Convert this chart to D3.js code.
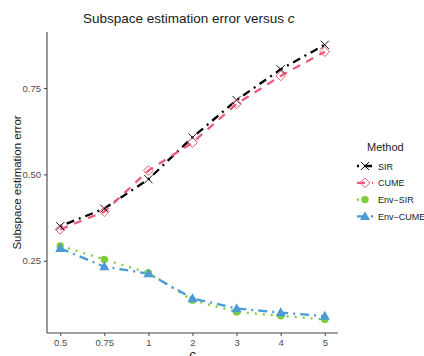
<!DOCTYPE html>
<html>
<head>
<meta charset="utf-8">
<script src="https://cdn.jsdelivr.net/npm/d3@7"></script>
<style>
  body { margin: 0; background: #fff; }
  svg { font-family: "Liberation Sans", Arial, sans-serif; }
</style>
</head>
<body>
<svg id="chart" width="424" height="356"></svg>
<script>
// c values (discrete x)
var cLabels = ["0.5", "0.75", "1", "2", "3", "4", "5"];

var sirErr     = [0.350, 0.401, 0.486, 0.607, 0.715, 0.804, 0.875];
var cumeErr    = [0.341, 0.392, 0.511, 0.592, 0.704, 0.785, 0.855];
var envSirErr  = [0.293, 0.254, 0.215, 0.136, 0.102, 0.091, 0.080];
var envCumeErr = [0.286, 0.233, 0.213, 0.141, 0.112, 0.100, 0.090];

var methods = ["SIR", "CUME", "Env\u2212SIR", "Env\u2212CUME"];
var yTicks = [0.25, 0.50, 0.75];

var series = [
  { name: methods[0], values: sirErr,     color: "#000000", dash: "2,5,8,5",  shape: "cross" },
  { name: methods[1], values: cumeErr,    color: "#EC5B78", dash: "8,7",      shape: "diamond" },
  { name: methods[2], values: envSirErr,  color: "#7DCE3A", dash: "2,6",      shape: "circle" },
  { name: methods[3], values: envCumeErr, color: "#4B9BD6", dash: "9,5,2,5",  shape: "triangle" }
];

var margin = { top: 32, right: 86, bottom: 23, left: 47 };
var width = 424 - margin.left - margin.right;
var height = 356 - margin.top - margin.bottom;

var svg = d3.select("#chart");
var g = svg.append("g")
  .attr("transform", "translate(" + margin.left + "," + margin.top + ")");

var x = d3.scalePoint()
  .domain(cLabels)
  .range([0, width])
  .padding(0.3);

var y = d3.scaleLinear()
  .domain([0.041, 0.912])
  .range([height, 0]);

// axes
var xAxis = g.append("g")
  .attr("transform", "translate(0," + height + ")")
  .call(d3.axisBottom(x).tickSize(3).tickPadding(3));
var yAxis = g.append("g")
  .call(d3.axisLeft(y).tickValues(yTicks).tickFormat(d3.format(".2f")).tickSize(3).tickPadding(3));

[xAxis, yAxis].forEach(function(a) {
  a.select(".domain").attr("stroke", "#444").attr("stroke-width", 1.1);
  a.selectAll(".tick line").attr("stroke", "#444");
  a.selectAll(".tick text").attr("fill", "#4d4d4d").style("font-size", "9.5px");
});
// keep the axis line from extending past ticks like ggplot
xAxis.select(".domain").attr("d", "M0,0H" + width);
yAxis.select(".domain").attr("d", "M0,0V" + height);

var line = d3.line()
  .x(function(d, i) { return x(cLabels[i]); })
  .y(function(d) { return y(d); });

function drawShape(sel, shape, color, size) {
  if (shape === "cross") {
    var s = size * 1.05;
    sel.append("path")
      .attr("d", "M" + (-s) + "," + (-s) + "L" + s + "," + s + "M" + (-s) + "," + s + "L" + s + "," + (-s))
      .attr("stroke", color).attr("stroke-width", 0.9).attr("fill", "none");
  } else if (shape === "diamond") {
    var s2 = size * 1.25;
    sel.append("path")
      .attr("d", "M0," + (-s2) + "L" + s2 + ",0L0," + s2 + "L" + (-s2) + ",0Z")
      .attr("stroke", color).attr("stroke-width", 1).attr("fill", "none");
  } else if (shape === "circle") {
    sel.append("circle").attr("r", size * 0.95).attr("fill", color);
  } else {
    var s3 = size * 1.35;
    sel.append("path")
      .attr("d", "M0," + (-s3) + "L" + (s3 * 0.95) + "," + (s3 * 0.7) + "L" + (-s3 * 0.95) + "," + (s3 * 0.7) + "Z")
      .attr("fill", color);
  }
}

series.forEach(function(s) {
  g.append("path")
    .datum(s.values)
    .attr("d", line)
    .attr("fill", "none")
    .attr("stroke", s.color)
    .attr("stroke-width", 2.3)
    .attr("stroke-dasharray", s.dash);
});

series.forEach(function(s) {
  s.values.forEach(function(v, i) {
    var p = g.append("g")
      .attr("transform", "translate(" + x(cLabels[i]) + "," + y(v) + ")");
    drawShape(p, s.shape, s.color, 3.9);
  });
});

// title
svg.append("text")
  .attr("x", 83).attr("y", 23)
  .style("font-size", "13.5px").attr("fill", "#1a1a1a")
  .text("Subspace estimation error versus ")
  .append("tspan").style("font-style", "italic").text("c");

// axis titles
svg.append("text")
  .attr("x", margin.left + width / 2).attr("y", 359)
  .attr("text-anchor", "middle")
  .style("font-size", "13px").style("font-style", "italic").attr("fill", "#1a1a1a")
  .text("c");

svg.append("text")
  .attr("transform", "translate(21," + (margin.top + height / 2) + ") rotate(-90)")
  .attr("text-anchor", "middle")
  .style("font-size", "11.5px").attr("fill", "#1a1a1a")
  .text("Subspace estimation error");

// legend
var legend = svg.append("g").attr("transform", "translate(357,0)");
legend.append("text")
  .attr("x", 10).attr("y", 151)
  .style("font-size", "11px").attr("fill", "#1a1a1a")
  .text("Method");

series.forEach(function(s, i) {
  var ly = 166 + i * 16.8;
  var row = legend.append("g").attr("transform", "translate(0," + ly + ")");
  row.append("line")
    .attr("x1", 0).attr("x2", 16)
    .attr("stroke", s.color).attr("stroke-width", 2.3)
    .attr("stroke-dasharray", s.dash);
  var m = row.append("g").attr("transform", "translate(8,0)");
  drawShape(m, s.shape, s.color, 3.9);
  row.append("text")
    .attr("x", 21).attr("y", 3.5)
    .style("font-size", "9px").attr("fill", "#1a1a1a")
    .text(s.name);
});
</script>
</body>
</html>
